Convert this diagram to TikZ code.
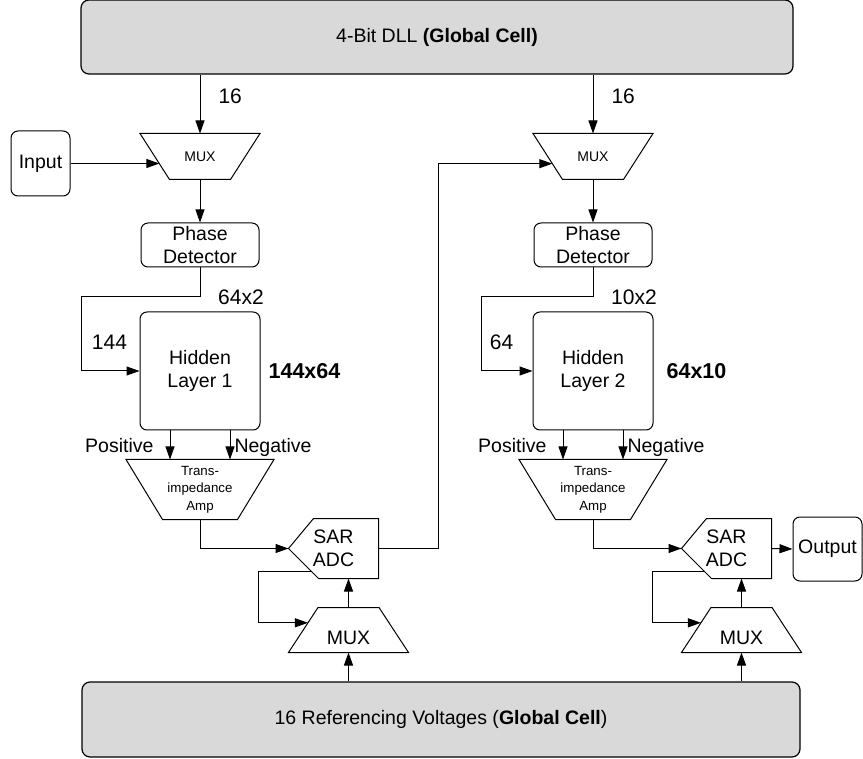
\documentclass[tikz,border=0pt]{standalone}
\usepackage{fontspec}
\setmainfont{Liberation Sans}
\usetikzlibrary{positioning,calc,arrows.meta}
\definecolor{cellgray}{HTML}{D9D9D9}

% SAR converter outline, drawn round an invisible node
\newcommand\sarborder[1]{%
  \coordinate (#1-tl) at ($(#1.north west)+(25,0)$);
  \coordinate (#1-bl) at ($(#1.south west)+(30,0)$);
  \draw (#1-tl) -- (#1.north east) -- (#1.south east) -- (#1-bl) -- (#1.west) -- cycle;}
% trapezium outline: node, top inset, bottom inset
\newcommand\trapborder[3]{%
  \coordinate (#1-tl) at ($(#1.north west)+(#2,0)$);
  \coordinate (#1-tr) at ($(#1.north east)+(-#2,0)$);
  \coordinate (#1-br) at ($(#1.south east)+(-#3,0)$);
  \coordinate (#1-bl) at ($(#1.south west)+(#3,0)$);
  \draw (#1-tl) -- (#1-tr) -- (#1-br) -- (#1-bl) -- cycle;}

\begin{document}
\begin{tikzpicture}[x=1pt, y=-1pt, line width=1pt, >={Triangle[length=13pt,width=9pt]},
    cell/.style = {draw, rounded corners=8pt, fill=cellgray, line width=1.2pt, font=\fontsize{19.5}{23}\selectfont},
    block/.style = {draw, rounded corners=7pt, align=center, inner sep=0pt, font=\fontsize{19.5}{23}\selectfont},
    mux/.style = {minimum width=119pt, minimum height=45pt, inner sep=0pt, font=\fontsize{14}{16}\selectfont},
    refmux/.style = {minimum width=119pt, minimum height=44pt, inner sep=0pt, font=\fontsize{19.5}{23}\selectfont},
    tia/.style = {minimum width=147pt, minimum height=59pt, inner sep=0pt, align=center, font=\fontsize{13.3}{17.5}\selectfont},
    sar/.style = {minimum width=89pt, minimum height=59pt, inner sep=0pt, align=center, font=\fontsize{19.5}{23}\selectfont},
    lbl/.style = {inner sep=1pt, text height=14pt, text depth=4pt, font=\fontsize{19.5}{23}\selectfont},
    num/.style = {inner sep=1pt, font=\fontsize{21}{25}\selectfont},
    sizelbl/.style = {inner sep=1pt, font=\fontsize{21.5}{25}\selectfont\bfseries}]
    \useasboundingbox (0,0) rectangle (863,759);

    % global cells
    \node[cell, minimum width=712pt, minimum height=74pt] (dll) at (437,37) {4-Bit DLL \textbf{(Global Cell)}};
    \node[cell, minimum width=718pt, minimum height=75pt] (refv) at (441,719.5) {16 Referencing Voltages (\textbf{Global Cell})};

    % first layer
    \node[block, minimum width=59pt, minimum height=65pt] (inp) at (40.5,163.5) {Input};
    \node[mux] (mux1) at (200,156.5) {MUX};
    \trapborder{mux1}{0}{29.5}
    \node[block, minimum width=118pt, minimum height=44pt] (pd1) at (200,245) {Phase\\Detector};
    \node[block, minimum width=120pt, minimum height=118pt] (hl1) at (200,371) {Hidden\\Layer 1};
    \node[tia] (tia1) at (200,489.5) {Trans-\\impedance\\Amp};
    \trapborder{tia1}{0}{36.5}
    \node[sar] (sar1) at (333.5,548.5) {SAR\\ADC};
    \sarborder{sar1}
    \node[refmux] (mux3) at (348.5,630) {\raisebox{-14pt}[0pt][0pt]{MUX}};
    \trapborder{mux3}{29.5}{0}

    % second layer
    \node[mux] (mux2) at (593,156.5) {MUX};
    \trapborder{mux2}{0}{29.5}
    \node[block, minimum width=118pt, minimum height=44pt] (pd2) at (593,245) {Phase\\Detector};
    \node[block, minimum width=120pt, minimum height=118pt] (hl2) at (593,371) {Hidden\\Layer 2};
    \node[tia] (tia2) at (593,489.5) {Trans-\\impedance\\Amp};
    \trapborder{tia2}{0}{36.5}
    \node[sar] (sar2) at (726.5,548.5) {SAR\\ADC};
    \sarborder{sar2}
    \node[refmux] (mux4) at (741.5,630) {\raisebox{-14pt}[0pt][0pt]{MUX}};
    \trapborder{mux4}{29.5}{0}
    \node[block, minimum width=69pt, minimum height=64pt] (outp) at (827.5,549) {Output};

    % sizes
    \node[num] (in1) at ($(hl1.west)+(-30,-29)$) {144};
    \node[num] (out1) at ($(hl1.north)+(41,-14)$) {64x2};
    \node[sizelbl] (w1) at ($(hl1.east)+(44,0)$) {144x64};
    \node[num] (in2) at ($(hl2.west)+(-31,-29)$) {64};
    \node[num] (out2) at ($(hl2.north)+(41,-14)$) {10x2};
    \node[sizelbl] (w2) at ($(hl2.east)+(43,0)$) {64x10};

    % entry points on the slanted sides
    \coordinate (mux1-in) at ($(mux1-tl)!0.656!(mux1-bl)$);
    \coordinate (mux2-in) at ($(mux2-tl)!0.656!(mux2-bl)$);
    \coordinate (mux3-in) at ($(mux3-tl)!0.34!(mux3-bl)$);
    \coordinate (mux4-in) at ($(mux4-tl)!0.34!(mux4-bl)$);

    % connections, first layer
    \draw[->] (dll.south -| mux1.north) -- node[num, pos=0.37, right=17pt] (sel1) {16} (mux1.north);
    \draw[->] (inp.east) -- (inp.east -| mux1-in);
    \draw[->] (mux1.south) -- (pd1.north);
    \draw[->] (pd1.south) -- ++(0,29) -| ($(hl1.west)+(-58,0)$) -- (hl1.west);
    \draw[->] ($(hl1.south)+(-30,0)$) -- node[lbl, pos=0.6, left=15pt] (pos1) {Positive} ($(tia1.north)+(-30,0)$);
    \draw[->] ($(hl1.south)+(30,0)$) -- node[lbl, pos=0.6, right=3pt] (neg1) {Negative} ($(tia1.north)+(30,0)$);
    \draw[->] (tia1.south) |- (sar1.west);
    \coordinate (fb1) at ($(sar1.west)!0.76!(sar1-bl)$);
    \draw[->] (fb1) -- ++(-53,0) |- (mux3-in);
    \draw[->] (mux3.north) -- (mux3.north |- sar1.south);
    \draw[->] (mux3.south |- refv.north) -- (mux3.south);
    \draw[->] (sar1.east) -- ++(60,0) |- (mux2-in);

    % connections, second layer
    \draw[->] (dll.south -| mux2.north) -- node[num, pos=0.37, right=17pt] (sel2) {16} (mux2.north);
    \draw[->] (mux2.south) -- (pd2.north);
    \draw[->] (pd2.south) -- ++(0,29) -| ($(hl2.west)+(-51,0)$) -- (hl2.west);
    \draw[->] ($(hl2.south)+(-30,0)$) -- node[lbl, pos=0.6, left=15pt] (pos2) {Positive} ($(tia2.north)+(-30,0)$);
    \draw[->] ($(hl2.south)+(30,0)$) -- node[lbl, pos=0.6, right=3pt] (neg2) {Negative} ($(tia2.north)+(30,0)$);
    \draw[->] (tia2.south) |- (sar2.west);
    \coordinate (fb2) at ($(sar2.west)!0.76!(sar2-bl)$);
    \draw[->] (fb2) -- ++(-52,0) |- (mux4-in);
    \draw[->] (mux4.north) -- (mux4.north |- sar2.south);
    \draw[->] (mux4.south |- refv.north) -- (mux4.south);
    \draw[->] (sar2.east) -- (outp.west);
\end{tikzpicture}
\end{document}
